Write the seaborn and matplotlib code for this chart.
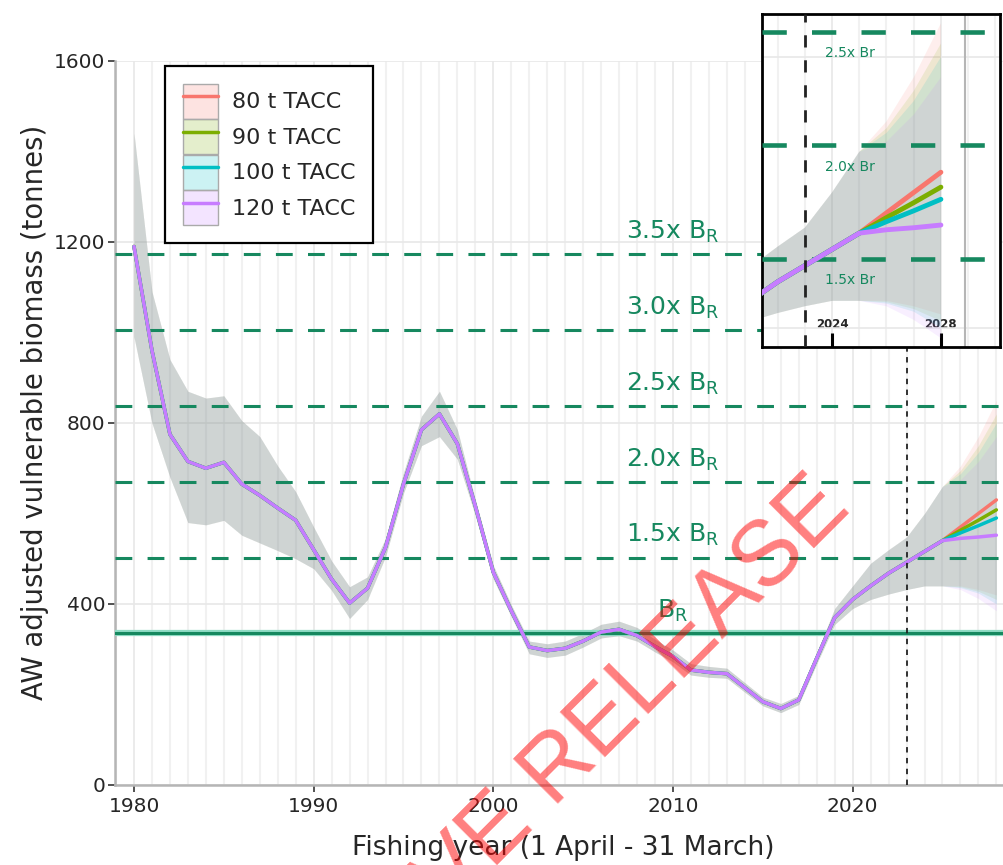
import matplotlib
matplotlib.use("Agg")
import pandas as pd
import matplotlib.pyplot as plt
import seaborn as sns
from matplotlib.lines import Line2D
from matplotlib.patches import Patch
from matplotlib.colors import to_rgba
from matplotlib.ticker import MultipleLocator
from matplotlib.legend_handler import HandlerTuple

# historical estimates (shared by all scenarios)
hist_years = list(range(1980, 2026))
hist_med = [1190, 960, 775, 715, 700, 713, 665, 640, 612, 585, 520, 455, 402, 435, 525,
            665, 785, 820, 754, 616, 470, 385, 305, 297, 302, 318, 338, 344, 330, 306,
            284, 254, 249, 246, 215, 184, 169, 188, 280, 370, 410, 440, 468, 492, 516, 540]
hist_lo = [990, 800, 680, 580, 575, 585, 552, 535, 518, 500, 478, 430, 368, 410, 505,
           645, 750, 770, 720, 595, 455, 372, 290, 282, 287, 305, 325, 330, 318, 294,
           272, 243, 238, 236, 205, 175, 160, 178, 268, 355, 390, 410, 422, 432, 440, 440]
hist_hi = [1440, 1090, 940, 870, 855, 860, 805, 770, 705, 648, 570, 495, 438, 460, 545,
           690, 815, 870, 785, 630, 485, 398, 318, 312, 318, 335, 355, 362, 348, 322,
           298, 268, 262, 258, 226, 194, 180, 198, 292, 390, 440, 490, 520, 548, 600, 660]

# projections under each TACC
proj_years = [2026, 2027, 2028]
tacc_labels = ["80 t TACC", "90 t TACC", "100 t TACC", "120 t TACC"]
tacc_colors = ["#F8766D", "#7CAE00", "#00BFC4", "#C77CFF"]
proj_med = [[570, 600, 630], [563, 585, 608], [557, 573, 590], [545, 548, 552]]
proj_lo = [[440, 432, 420], [438, 428, 410], [436, 424, 400], [432, 412, 385]]
proj_hi = [[705, 770, 850], [695, 750, 820], [688, 735, 800], [675, 715, 770]]

# reference points
b_r = 335
ref_mult = [1.5, 2.0, 2.5, 3.0, 3.5]
inset_mult = [1.5, 2.0, 2.5]
current_year = 2023

rows = []
for i, lab in enumerate(tacc_labels):
    yrs = hist_years + proj_years
    med = hist_med + proj_med[i]
    lo = hist_lo + proj_lo[i]
    hi = hist_hi + proj_hi[i]
    for y, m, l, h in zip(yrs, med, lo, hi):
        rows.append({"year": y, "biomass": m, "lo": l, "hi": h, "TACC": lab})
df = pd.DataFrame(rows)

sns.set_theme(style="ticks")
plt.rcParams["font.family"] = ["DejaVu Sans"]

green = "#16885f"


def draw_series(ax, lw):
    for lab, col in zip(tacc_labels, tacc_colors):
        d = df[df["TACC"] == lab]
        ax.fill_between(d["year"], d["lo"], d["hi"], color=col, alpha=0.12, lw=0, zorder=2)
    sns.lineplot(data=df, x="year", y="biomass", hue="TACC", hue_order=tacc_labels,
                 palette=tacc_colors, lw=lw, ax=ax, legend=False, zorder=4)


fig = plt.figure(figsize=(10.04, 8.65), dpi=100)
ax = fig.add_axes([0.1145, 0.0925, 0.894, 0.837])

draw_series(ax, 2.5)

ax.axhline(b_r, color="#8fdcc4", lw=4.5, zorder=3)
ax.axhline(b_r, color=green, lw=2.2, zorder=3)
ax.text(2010, b_r + 35, r"B$_\mathrm{R}$", color=green, fontsize=18, ha="center", va="baseline")
for k in ref_mult:
    ax.axhline(k * b_r, color=green, lw=2.2, ls=(0, (5.5, 5)), zorder=3)
    ax.text(2010, k * b_r + 34, f"{k:.1f}x B$_\\mathrm{{R}}$", color=green, fontsize=18,
            ha="center", va="baseline")
ax.axvline(current_year, color="#222222", lw=1.3, ls=(0, (3, 3)), zorder=5)

ax.set_xlim(1978.94, 2028.9)
ax.set_ylim(0, 1600)
ax.set_yticks([0, 400, 800, 1200, 1600])
ax.set_xticks([1980, 1990, 2000, 2010, 2020])
ax.xaxis.set_minor_locator(MultipleLocator(1))
ax.set_axisbelow(True)
ax.grid(which="major", color="#e8e8e8", lw=1.2)
ax.grid(which="minor", axis="x", color="#f1f1f1", lw=1.5)
ax.tick_params(axis="both", which="major", labelsize=14.5, length=5, width=1.2, color="#333333")
ax.tick_params(axis="y", pad=2)
ax.tick_params(axis="x", which="minor", length=0)
for s in ["top", "right"]:
    ax.spines[s].set_visible(False)
for s in ["left", "bottom"]:
    ax.spines[s].set_color("#b5b5b5")
    ax.spines[s].set_linewidth(1.8)
ax.set_xlabel("Fishing year (1 April - 31 March)", fontsize=19, labelpad=14)
ax.set_ylabel("AW adjusted vulnerable biomass (tonnes)", fontsize=19.8)
ax.yaxis.set_label_coords(-0.073, 0.515)

handles = [(Patch(facecolor=to_rgba(c, 0.2), edgecolor="#aaaaaa", lw=1),
            Line2D([], [], color=c, lw=2.5)) for c in tacc_colors]
leg = ax.legend(handles, tacc_labels, handler_map={tuple: HandlerTuple(ndivide=1)},
                loc="upper left", bbox_to_anchor=(0.0557, 0.993), borderaxespad=0,
                fontsize=16, fancybox=False, framealpha=1, edgecolor="black",
                handlelength=1.6, handleheight=2.05, labelspacing=0.02,
                handletextpad=0.6, borderpad=0.8)
leg.get_frame().set_linewidth(1.6)

# inset zoom on the projection
axi = fig.add_axes([0.759, 0.599, 0.237, 0.385])
axi.set_facecolor("white")
draw_series(axi, 3.5)
for k in inset_mult:
    axi.axhline(k * b_r, color=green, lw=3.3, ls=(0, (5.3, 5.5)), zorder=3)
    axi.text(2024.65, k * b_r - 38, f"{k:.1f}x Br", color=green, fontsize=10,
             ha="center", va="baseline")
axi.axvline(current_year, color="#222222", lw=2, ls=(0, (4.4, 4.6)), zorder=5)
axi.axvline(2028.9, color="#b5b5b5", lw=1.5, zorder=1)
axi.set_xlim(2021.43, 2030.17)
axi.set_ylim(372, 864)
axi.set_xticks([2024, 2028])
axi.set_yticks([400, 800])
axi.xaxis.set_minor_locator(MultipleLocator(1))
axi.set_axisbelow(True)
axi.grid(which="major", color="#e8e8e8", lw=1.2)
axi.grid(which="minor", axis="x", color="#f1f1f1", lw=1.5)
axi.tick_params(axis="x", which="major", direction="in", length=10, width=2.2,
                color="black", pad=-21, labelsize=8.5)
axi.tick_params(axis="x", which="minor", length=0)
axi.tick_params(axis="y", left=False, labelleft=False)
for t in axi.get_xticklabels():
    t.set_fontweight("bold")
axi.set_xlabel("")
axi.set_ylabel("")
for s in axi.spines.values():
    s.set_color("black")
    s.set_linewidth(2)

fig.text(0.488, 0.030, "PROACTIVE RELEASE", rotation=45, rotation_mode="anchor",
         ha="center", va="center", fontsize=66, color="red", alpha=0.5,
         family=["Liberation Sans", "DejaVu Sans"], zorder=10)

fig.savefig("out.png", dpi=100)
